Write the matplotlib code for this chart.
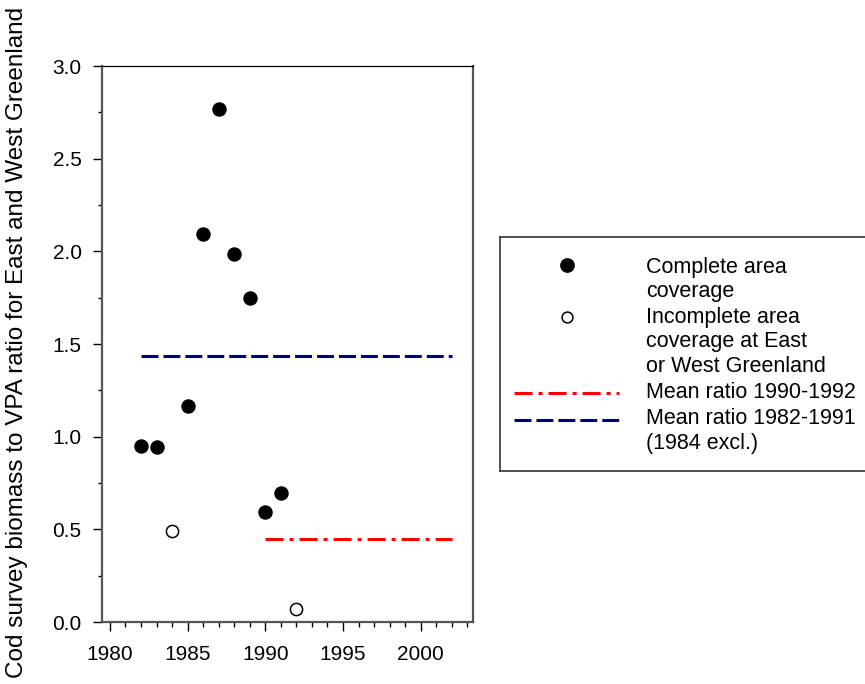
import matplotlib
matplotlib.use("Agg")
import matplotlib.pyplot as plt
from matplotlib.ticker import MultipleLocator

plt.rcParams['font.family'] = ['Liberation Sans', 'DejaVu Sans']
plt.rcParams['lines.scale_dashes'] = False

# Data
years_complete = [1982, 1983, 1985, 1986, 1987, 1988, 1989, 1990, 1991]
ratio_complete = [0.948, 0.943, 1.164, 2.092, 2.768, 1.984, 1.748, 0.595, 0.698]
years_incomplete = [1984, 1992]
ratio_incomplete = [0.489, 0.07]
mean_9092_years = [1990, 2002]
mean_9092_value = 0.446
mean_8291_years = [1982, 2002]
mean_8291_value = 1.434

xticks = [1980, 1985, 1990, 1995, 2000]
yticks = [0.0, 0.5, 1.0, 1.5, 2.0, 2.5, 3.0]

W, H = 865, 684
fig = plt.figure(figsize=(W / 100, H / 100), dpi=100)
ax = fig.add_axes([101.7 / W, 1 - 622 / H, (473 - 101.7) / W, (622 - 66) / H])

red_dash = (0, (13, 4.3, 2.9, 4.3))
blue_dash = (0, (12.2, 3.6))

ax.plot(mean_8291_years, [mean_8291_value] * 2, color='#000080', lw=2.2,
        linestyle=blue_dash, zorder=2)
ax.plot(mean_9092_years, [mean_9092_value] * 2, color='#ff0000', lw=2.2,
        linestyle=red_dash, zorder=2)
ax.plot(years_complete, ratio_complete, 'o', color='black', ms=9.4, zorder=3)
ax.plot(years_incomplete, ratio_incomplete, 'o', mfc='white', mec='black',
        ms=8.8, mew=1.1, zorder=3)

ax.set_xlim(1979.47, 2003.37)
ax.set_ylim(0, 3.0)
ax.set_xticks(xticks)
ax.set_yticks(yticks)
ax.set_yticklabels([f"{v:.1f}" for v in yticks])
ax.xaxis.set_minor_locator(MultipleLocator(1))
ax.yaxis.set_minor_locator(MultipleLocator(0.25))
ax.tick_params(axis='both', which='major', direction='out', length=6.5, width=1,
               labelsize=15, color='black')
ax.tick_params(axis='x', which='major', pad=10)
ax.tick_params(axis='y', which='major', pad=8)
ax.tick_params(axis='x', which='minor', direction='out', length=3.6, width=1)
ax.tick_params(axis='y', which='minor', direction='out', length=2.8, width=1)
ax.tick_params(top=False, right=False, which='both')

for s in ['left', 'bottom', 'right']:
    ax.spines[s].set_color('#555555')
    ax.spines[s].set_linewidth(1.6)
ax.spines['top'].set_color('black')
ax.spines['top'].set_linewidth(0.9)

fig.text(17 / W, 1 - 342 / H,
         'Cod survey biomass to VPA ratio for East and West Greenland',
         rotation=90, ha='center', va='center', fontsize=17.5)

# Legend (manual box)
lx0, lx1, ly0, ly1 = 500, 868, 237, 471
lax = fig.add_axes([lx0 / W, 1 - ly1 / H, (lx1 - lx0) / W, (ly1 - ly0) / H])
lax.set_xlim(lx0, lx1)
lax.set_ylim(ly1, ly0)
lax.set_xticks([])
lax.set_yticks([])
for s in lax.spines.values():
    s.set_color('#333333')
    s.set_linewidth(1.2)

lax.plot([566.7], [265], 'o', color='black', ms=9.6)
lax.plot([566.7], [317], 'o', mfc='white', mec='black', ms=7.8, mew=1.1)
lax.plot([514, 619], [393, 393], color='#ff0000', lw=2.2, linestyle=red_dash)
lax.plot([514, 619], [420, 420], color='#000080', lw=2.2, linestyle=blue_dash)

lines = ['Complete area', 'coverage', 'Incomplete area', 'coverage at East',
         'or West Greenland', 'Mean ratio 1990-1992', 'Mean ratio 1982-1991',
         '(1984 excl.)']
ys = [267.7, 292, 317, 342, 367, 393, 418, 443]
for t, y in zip(lines, ys):
    lax.text(645.7, y, t, ha='left', va='center', fontsize=15.5)

fig.savefig('out.png', dpi=100)
